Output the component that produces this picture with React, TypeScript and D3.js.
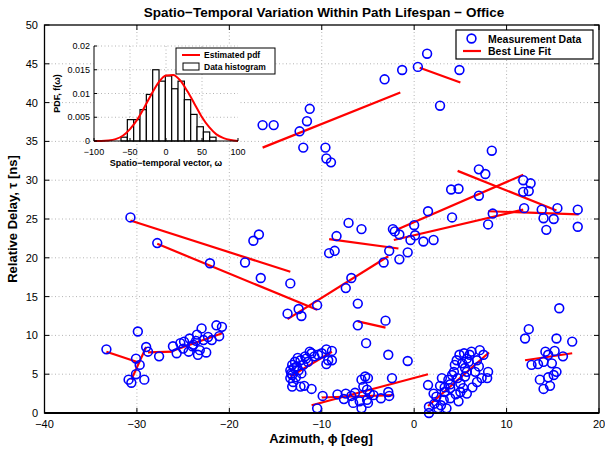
import React from "react";
import * as d3 from "d3";

// main axes ticks
const xTicks = [-40, -30, -20, -10, 0, 10, 20];
const yTicks = [0, 5, 10, 15, 20, 25, 30, 35, 40, 45, 50];

// measurement data: [azimuth deg, delay ns]
const points: [number, number][] = [
  [1.4, 46.3], [-3.2, 43.0], [-1.3, 44.2], [0.4, 44.6], [4.9, 44.2], [2.8, 39.6],
  [-16.4, 37.1], [-15.2, 37.1], [-11.3, 39.2], [-11.6, 37.6], [-12.4, 36.3], [-12.0, 34.2],
  [-9.6, 34.2], [-9.5, 32.8], [-9.0, 32.3],
  [8.4, 33.8], [7.0, 31.4], [7.7, 30.8], [4.0, 28.8], [4.8, 28.9], [7.0, 28.0],
  [11.8, 30.0], [12.6, 29.6], [11.8, 28.5], [12.4, 28.6],
  [1.5, 26.0], [4.1, 25.2], [8.5, 25.7], [8.0, 24.3], [11.9, 26.4], [13.8, 26.2],
  [15.5, 26.4], [14.0, 25.1], [15.1, 25.0], [14.3, 23.6], [17.7, 26.2], [17.7, 24.0],
  [-2.3, 23.7], [-2.1, 23.4], [-1.6, 23.0], [0.0, 24.2], [0.1, 22.9], [-0.4, 22.3],
  [1.0, 22.1], [2.1, 22.3], [-2.7, 20.9], [-1.6, 19.8], [-0.7, 20.7], [-3.3, 19.4],
  [15.7, 13.5],
  [-7.1, 24.5], [-5.7, 23.7], [-8.4, 22.8], [-9.2, 20.6], [-8.6, 20.9], [-6.8, 17.4],
  [-7.4, 16.1], [-6.1, 14.1], [-6.1, 11.3], [-3.1, 11.9],
  [-10.5, 13.9], [-12.5, 13.4], [-13.7, 12.8], [-12.2, 12.5], [-13.4, 16.7], [-16.6, 17.4],
  [-17.4, 22.2], [-16.8, 23.0], [-18.3, 19.4],
  [-30.7, 25.2], [-27.8, 21.9], [-22.1, 19.3],
  // left cluster
  [-29.9, 10.5], [-33.3, 8.2], [-29.0, 8.5], [-28.8, 7.9], [-30.1, 7.0], [-29.7, 6.2],
  [-30.1, 5.0], [-30.9, 4.3], [-30.6, 3.9], [-29.2, 4.3], [-27.6, 7.3],
  [-26.1, 8.6], [-25.7, 7.7], [-25.3, 9.0], [-24.9, 9.2], [-24.4, 7.9], [-24.3, 9.6],
  [-23.9, 8.8], [-23.5, 10.1], [-23.4, 7.5], [-23.2, 8.1], [-23.0, 10.9], [-22.8, 9.4],
  [-22.5, 7.8], [-22.3, 9.8], [-21.9, 9.4], [-21.4, 11.3], [-20.8, 11.1], [-21.1, 9.9],
  [-25.0, 8.3], [-24.0, 8.6], [-23.6, 9.3],
  // cluster near -12
  [-9.5, 8.2], [-8.9, 8.0], [-9.3, 6.8], [-8.9, 6.8], [-9.5, 6.3], [-10.4, 7.5],
  [-11.1, 7.7], [-11.3, 7.9], [-11.8, 7.3], [-12.3, 6.8], [-12.9, 6.6], [-13.2, 6.2],
  [-13.4, 5.5], [-13.2, 4.9], [-13.4, 4.5], [-12.8, 4.6], [-13.2, 3.4], [-12.3, 3.4],
  [-11.9, 3.5], [-13.1, 4.0], [-12.2, 5.1], [-12.5, 5.5], [-11.5, 6.6], [-10.8, 7.3],
  [-10.0, 7.7], [-12.7, 6.0], [-12.0, 6.2], [-13.0, 5.8], [-11.7, 7.0], [-12.6, 7.1],
  [-13.3, 5.1],
  // lower middle
  [-11.1, 3.1], [-10.5, 0.6], [-9.9, 2.2], [-8.3, 2.4], [-7.6, 1.8], [-6.8, 2.2],
  [-6.4, 2.6], [-6.6, 1.3], [-5.9, 1.5], [-5.7, 0.6], [-5.7, 4.3], [-5.3, 4.7],
  [-5.0, 4.5], [-5.5, 3.4], [-5.1, 3.0], [-4.8, 2.5], [-5.1, 1.7], [-5.0, 1.3],
  [-4.4, 2.3], [-3.6, 1.9], [-2.8, 2.7], [-2.7, 2.2], [-2.4, 4.5], [-5.2, 9.0],
  [-2.8, 7.5], [-0.7, 6.7], [-7.4, 2.5],
  // cluster near +4
  [1.5, 3.6], [1.6, 0.8], [1.6, 0.0], [2.6, 0.6], [3.5, 0.6], [2.1, 2.5], [2.4, 2.1],
  [3.2, 1.7], [3.9, 1.9], [4.8, 1.5], [3.0, 4.5], [3.7, 4.3], [4.1, 4.9], [4.4, 6.2],
  [4.3, 5.3], [5.0, 3.8], [5.3, 3.2], [5.7, 2.5], [5.0, 2.7], [5.5, 5.8], [5.9, 6.6],
  [6.0, 7.5], [6.2, 7.9], [6.8, 6.8], [7.1, 8.1], [7.5, 7.5], [7.0, 6.0], [6.6, 5.3],
  [7.3, 4.5], [8.0, 5.3], [7.9, 4.5], [6.8, 4.0], [3.3, 2.7], [3.9, 3.2], [2.8, 3.5],
  [3.3, 3.3], [3.9, 3.7], [4.6, 6.8], [5.2, 6.4], [5.7, 7.0], [4.9, 7.5], [5.4, 7.7],
  [5.7, 5.3], [5.5, 4.7], [2.2, 1.2], [2.9, 1.0], [4.5, 2.4], [6.3, 3.3], [4.7, 4.5],
  // far right
  [12.4, 10.8], [12.0, 9.6], [15.4, 9.6], [17.1, 9.2], [14.2, 7.9], [14.5, 7.5],
  [15.2, 8.0], [16.1, 7.3], [12.7, 6.2], [13.4, 6.3], [14.0, 6.6], [14.9, 6.4],
  [15.4, 5.3], [15.1, 4.9], [14.5, 4.6], [13.6, 4.3], [14.0, 3.1], [14.7, 3.5],
];

// best line fits: [x1, y1, x2, y2]
const fitLines: [number, number, number, number][] = [
  [-33.3, 7.9, -29.8, 6.5],
  [-30.6, 4.3, -29.0, 8.5],
  [-28.8, 7.8, -26.1, 7.9],
  [-26.4, 7.9, -20.7, 10.3],
  [-30.7, 24.8, -13.4, 18.2],
  [-27.8, 21.8, -10.5, 13.3],
  [-13.7, 12.1, -2.8, 20.2],
  [-9.2, 22.4, -1.7, 21.2],
  [-6.1, 11.8, -3.1, 11.0],
  [-16.4, 34.2, -1.5, 41.3],
  [0.6, 44.5, 5.0, 42.6],
  [-13.4, 4.7, -8.9, 7.9],
  [-11.1, 1.0, 1.5, 5.0],
  [-10.0, 2.0, -2.3, 2.3],
  [1.5, 0.9, 8.1, 7.8],
  [12.0, 6.8, 17.1, 7.7],
  [-1.9, 23.6, 11.8, 30.7],
  [-2.2, 22.3, 11.8, 26.2],
  [8.0, 26.0, 17.8, 25.6],
  [4.7, 31.2, 15.4, 26.1],
];

// inset histogram
const histStart = -62.5;
const histWidth = 8.8;
const histHeights = [
  0.0008, 0.0045, 0.0045, 0.0066, 0.0098, 0.015, 0.0126, 0.0137,
  0.011, 0.0126, 0.0087, 0.0056, 0.003, 0.0019, 0.0008,
];
const pdfOmega = [-100, -90, -80, -70, -60, -50, -40, -30, -20, -10, 0, 10, 20, 30, 40, 50, 60, 70, 80, 90, 100];
const pdfValues = [
  0.0, 0.0, 0.0001, 0.0004, 0.0011, 0.0025, 0.0045, 0.0071, 0.0099, 0.0124, 0.0138,
  0.0139, 0.0127, 0.0104, 0.0077, 0.005, 0.0029, 0.0014, 0.0006, 0.0002, 0.0,
];
const insetXTicks = [-100, -50, 0, 50, 100];
const insetYTicks = [0, 0.005, 0.01, 0.015, 0.02];

const FONT = "'Liberation Sans', Arial, Helvetica, sans-serif";
const minus = (n: number) => (n < 0 ? "\u2212" + Math.abs(n) : String(n));

const App: React.FC = () => {
  const W = 605;
  const H = 450;
  const m = { left: 44.5, right: 599, top: 25, bottom: 413 };
  const x = d3.scaleLinear().domain([-40, 20]).range([m.left, m.right]);
  const y = d3.scaleLinear().domain([0, 50]).range([m.bottom, m.top]);

  const ins = { left: 94, right: 238, top: 46, bottom: 141 };
  const ix = d3.scaleLinear().domain([-100, 100]).range([ins.left, ins.right]);
  const iy = d3.scaleLinear().domain([0, 0.02]).range([ins.bottom, ins.top]);

  const pdfLine = d3
    .line<number>()
    .x((_, i) => ix(pdfOmega[i]))
    .y((d) => iy(d))
    .curve(d3.curveMonotoneX);

  const grid = "#b4b4b4";

  return (
    <svg
      width={W}
      height={H}
      style={{ position: "absolute", left: 0, top: 0, background: "#fff" }}
      fontFamily={FONT}
    >
      <rect x={0} y={0} width={W} height={H} fill="#fff" />
      {/* title */}
      <text x={324} y={17} textAnchor="middle" fontSize={13.5} fontWeight="bold">
        Spatio−Temporal Variation Within Path Lifespan − Office
      </text>

      {/* main grid */}
      {xTicks.slice(1, -1).map((t) => (
        <line key={"gx" + t} x1={x(t)} x2={x(t)} y1={m.top} y2={m.bottom}
          stroke={grid} strokeDasharray="1 2.5" />
      ))}
      {yTicks.slice(1, -1).map((t) => (
        <line key={"gy" + t} x1={m.left} x2={m.right} y1={y(t)} y2={y(t)}
          stroke={grid} strokeDasharray="1 2.5" />
      ))}

      {/* main ticks */}
      {xTicks.map((t) => (
        <g key={"tx" + t}>
          <line x1={x(t)} x2={x(t)} y1={m.bottom} y2={m.bottom - 5} stroke="#000" />
          <line x1={x(t)} x2={x(t)} y1={m.top} y2={m.top + 5} stroke="#000" />
          <text x={x(t)} y={427.5} textAnchor="middle" fontSize={11}>{minus(t)}</text>
        </g>
      ))}
      {yTicks.map((t) => (
        <g key={"ty" + t}>
          <line x1={m.left} x2={m.left + 5} y1={y(t)} y2={y(t)} stroke="#000" />
          <line x1={m.right} x2={m.right - 5} y1={y(t)} y2={y(t)} stroke="#000" />
          <text x={38} y={y(t) + 4} textAnchor="end" fontSize={11}>{t}</text>
        </g>
      ))}

      {/* axis labels */}
      <text x={321} y={443} textAnchor="middle" fontSize={13} fontWeight="bold">
        Azimuth, ϕ [deg]
      </text>
      <text transform={`translate(17,${(m.top + m.bottom) / 2}) rotate(-90)`}
        textAnchor="middle" fontSize={13} fontWeight="bold">
        Relative Delay, τ [ns]
      </text>

      {/* fitted lines */}
      {fitLines.map((l, i) => (
        <line key={"fl" + i} x1={x(l[0])} y1={y(l[1])} x2={x(l[2])} y2={y(l[3])}
          stroke="#ff0000" strokeWidth={2.2} />
      ))}

      {/* measurement circles */}
      {points.map((p, i) => (
        <circle key={"p" + i} cx={x(p[0])} cy={y(p[1])} r={4.4}
          fill="none" stroke="#0000ff" strokeWidth={1.6} />
      ))}

      {/* main box */}
      <rect x={m.left} y={m.top} width={m.right - m.left} height={m.bottom - m.top}
        fill="none" stroke="#000" strokeWidth={1.3} />
      <line x1={m.left} x2={m.right} y1={m.bottom} y2={m.bottom} stroke="#000" strokeWidth={2} />

      {/* main legend */}
      <g>
        <rect x={456} y={30} width={137} height={29} fill="#fff" stroke="#000" strokeWidth={1.2} />
        <circle cx={471.5} cy={38.5} r={4.4} fill="none" stroke="#0000ff" strokeWidth={1.6} />
        <text x={488} y={42.5} fontSize={10.5} fontWeight="bold">Measurement Data</text>
        <line x1={463} x2={481} y1={51} y2={51} stroke="#ff0000" strokeWidth={2.2} />
        <text x={488} y={55} fontSize={10.5} fontWeight="bold">Best Line Fit</text>
      </g>

      {/* inset */}
      <g>
        <rect x={ins.left} y={ins.top} width={ins.right - ins.left} height={ins.bottom - ins.top} fill="#fff" />
        {insetXTicks.slice(1, -1).map((t) => (
          <line key={"igx" + t} x1={ix(t)} x2={ix(t)} y1={ins.top} y2={ins.bottom}
            stroke={grid} strokeDasharray="1 2.5" />
        ))}
        {insetYTicks.slice(1).map((t) => (
          <line key={"igy" + t} x1={ins.left} x2={ins.right} y1={iy(t)} y2={iy(t)}
            stroke={grid} strokeDasharray="1 2.5" />
        ))}
        {histHeights.map((h, i) => {
          const x0 = histStart + i * histWidth;
          return (
            <rect key={"h" + i} x={ix(x0)} y={iy(h)} width={ix(x0 + histWidth) - ix(x0)}
              height={iy(0) - iy(h)} fill="#fff" stroke="#000" strokeWidth={1.2} />
          );
        })}
        <path d={pdfLine(pdfValues) || ""} fill="none" stroke="#ff0000" strokeWidth={2} />
        <line x1={ins.left} x2={ins.left} y1={ins.top} y2={ins.bottom} stroke="#000" strokeWidth={1} />
        <line x1={ins.left} x2={ins.right} y1={ins.bottom} y2={ins.bottom} stroke="#000" strokeWidth={1} />
        {insetXTicks.map((t) => (
          <g key={"itx" + t}>
            <line x1={ix(t)} x2={ix(t)} y1={ins.bottom} y2={ins.bottom - 3} stroke="#000" />
            <text x={ix(t)} y={ins.bottom + 14} textAnchor="middle" fontSize={9}>{minus(t)}</text>
          </g>
        ))}
        {insetYTicks.map((t) => (
          <g key={"ity" + t}>
            <line x1={ins.left} x2={ins.left + 3} y1={iy(t)} y2={iy(t)} stroke="#000" />
            <text x={ins.left - 4} y={iy(t) + 3} textAnchor="end" fontSize={9}>{t}</text>
          </g>
        ))}
        <text x={(ins.left + ins.right) / 2} y={ins.bottom + 25} textAnchor="middle"
          fontSize={9} fontWeight="bold">
          Spatio−temporal vector, ω
        </text>
        <text transform={`translate(60,${(ins.top + ins.bottom) / 2}) rotate(-90)`}
          textAnchor="middle" fontSize={9} fontWeight="bold">
          PDF, f(ω)
        </text>
        {/* inset legend */}
        <rect x={176} y={48} width={99} height={26} fill="#fff" stroke="#000" strokeWidth={1} />
        <line x1={182} x2={200} y1={55} y2={55} stroke="#ff0000" strokeWidth={2} />
        <text x={204} y={58} fontSize={8.5} fontWeight="bold">Estimated pdf</text>
        <rect x={183} y={63} width={16} height={7} fill="#fff" stroke="#000" strokeWidth={1} />
        <text x={204} y={70} fontSize={8.5} fontWeight="bold">Data histogram</text>
      </g>
    </svg>
  );
};

export default App;
